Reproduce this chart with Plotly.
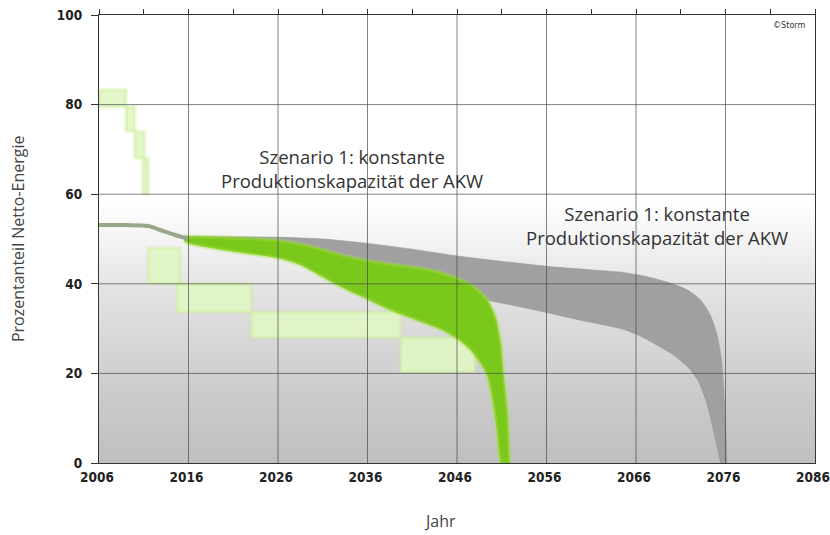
import plotly.graph_objects as go

# ---------------- data ----------------
x_ticks = [2006, 2016, 2026, 2036, 2046, 2056, 2066, 2076, 2086]
y_ticks = [0, 20, 40, 60, 80, 100]

# historical common line
hist_year = [2006, 2009, 2011.5, 2013, 2014.5, 2016]
hist_share = [53.1, 53.1, 52.9, 51.9, 50.9, 50.1]

# grey band (upper / lower edge)
grey_up_year = [2015.5, 2020, 2026, 2031, 2036, 2041, 2046, 2051, 2056, 2061, 2064.3, 2066.2,
                2068, 2069.9, 2071.75, 2073.2, 2074.3, 2075.1, 2075.5, 2075.8, 2076, 2076.15]
grey_up_share = [50.6, 50.5, 50.4, 50.0, 49.0, 47.7, 46.2, 45.0, 43.9, 43.1, 42.6, 42.0,
                 41.2, 40.1, 38.6, 36.4, 33.0, 28.2, 23.7, 16.3, 8.9, 0]
grey_lo_year = [2015.5, 2020, 2026, 2031, 2036, 2041, 2046, 2051, 2056, 2060, 2064.3, 2066.2,
                2068, 2069.9, 2071.75, 2072.9, 2073.8, 2074.3, 2074.9, 2075.3, 2075.5]
grey_lo_share = [49.6, 48.0, 46.5, 44.0, 41.5, 39.5, 37.6, 35.7, 33.6, 31.8, 30.0, 28.6,
                 26.7, 24.5, 21.5, 18.5, 14.0, 10.3, 5.1, 1.4, 0]

# green band (upper / lower edge)
green_up_year = [2015.5, 2020, 2026, 2030, 2033, 2036, 2039, 2041.9, 2044, 2046.1, 2047.9,
                 2049.4, 2050.3, 2050.9, 2051.2, 2051.7, 2051.9, 2052]
green_up_share = [50.6, 50.4, 49.7, 48.2, 46.5, 45.2, 44.3, 43.5, 42.6, 41.2, 39.4,
                  36.4, 32.7, 26.7, 20.0, 10.3, 0.7, 0]
green_lo_year = [2015.5, 2016, 2020, 2026, 2028.5, 2030.7, 2033, 2035.5, 2038, 2040, 2042,
                 2044.2, 2046.1, 2047.5, 2048.6, 2049.4, 2049.9, 2050.4, 2050.8, 2050.9]
green_lo_share = [49.6, 49.0, 47.5, 45.7, 44.2, 41.8, 39.3, 37.0, 34.6, 33.0, 31.5,
                  29.8, 27.6, 25.2, 22.3, 19.3, 14.8, 8.1, 0.7, 0]

# pale green step blocks
block_start = [2006, 2009, 2010, 2010.9, 2011.5, 2014.7, 2023, 2039.7]
block_end = [2009, 2010, 2011.1, 2011.5, 2015, 2023, 2039.7, 2048]
block_low = [79.5, 74, 68, 60, 40, 33.7, 28, 20.3]
block_high = [83.3, 79.5, 74, 68, 48, 40, 33.7, 28]

label_text = "Szenario 1: konstante<br>Produktionskapazität der AKW"
label1_pos = (2034.3, 65.8)
label2_pos = (2068.3, 53.1)

# ---------------- figure ----------------
fig = go.Figure()

# background gradient
fig.add_trace(go.Scatter(
    x=[2006, 2086, 2086, 2006, 2006], y=[0, 0, 58, 58, 0],
    fill="toself", mode="none", hoverinfo="skip", showlegend=False,
    fillgradient=dict(type="vertical",
                      colorscale=[[0, "#bfbfbf"], [0.3, "#cdcdcd"], [0.65, "#e2e2e2"], [1, "#ffffff"]]),
))

# pale green blocks (built as closed rectangles from the block arrays)
bx, by = [], []
for s, e, lo, hi in zip(block_start, block_end, block_low, block_high):
    bx += [s, e, e, s, s, None]
    by += [lo, lo, hi, hi, lo, None]
fig.add_trace(go.Scatter(x=bx, y=by, mode="lines", fill="toself",
                         fillcolor="rgba(224,246,196,0.9)",
                         line=dict(color="rgba(200,238,150,0.35)", width=4),
                         hoverinfo="skip", showlegend=False))

# grey band
fig.add_trace(go.Scatter(x=grey_lo_year, y=grey_lo_share, mode="lines",
                         line=dict(color="rgba(150,150,150,0.6)", width=1, shape="spline", smoothing=0.7),
                         hoverinfo="skip", showlegend=False))
fig.add_trace(go.Scatter(x=grey_up_year, y=grey_up_share, mode="lines", fill="tonexty",
                         fillcolor="#a0a0a0",
                         line=dict(color="rgba(150,150,150,0.6)", width=1, shape="spline", smoothing=0.7),
                         hoverinfo="skip", showlegend=False))

# green band
fig.add_trace(go.Scatter(x=green_lo_year, y=green_lo_share, mode="lines",
                         line=dict(color="rgba(165,225,60,0.35)", width=4, shape="spline", smoothing=0.7),
                         hoverinfo="skip", showlegend=False))
fig.add_trace(go.Scatter(x=green_up_year, y=green_up_share, mode="lines", fill="tonexty",
                         fillcolor="#7ac81b",
                         line=dict(color="rgba(165,225,60,0.35)", width=4, shape="spline", smoothing=0.7),
                         hoverinfo="skip", showlegend=False))

# historical line
fig.add_trace(go.Scatter(x=hist_year, y=hist_share, mode="lines",
                         line=dict(color="#98a78a", width=4, shape="spline", smoothing=0.8),
                         hoverinfo="skip", showlegend=False))

# invisible trace for top tick axis
fig.add_trace(go.Scatter(x=[2006, 2086], y=[50, 50], xaxis="x2", mode="markers",
                         marker=dict(size=1, opacity=0), hoverinfo="skip", showlegend=False))

# grid lines above traces
shapes = []
for xv in x_ticks[1:-1]:
    shapes.append(dict(type="line", xref="x", yref="y", x0=xv, x1=xv, y0=0, y1=100,
                       line=dict(color="rgba(70,70,70,0.85)", width=0.8), layer="above"))
for yv in y_ticks[1:-1]:
    shapes.append(dict(type="line", xref="x", yref="y", x0=2006, x1=2086, y0=yv, y1=yv,
                       line=dict(color="rgba(70,70,70,0.85)", width=0.8), layer="above"))

tick_font = dict(family="DejaVu Sans Condensed, DejaVu Sans, sans-serif", size=13.5,
                 color="#222", weight="bold")

fig.update_layout(
    width=830, height=535,
    margin=dict(l=99, r=15, t=15, b=72, autoexpand=False),
    paper_bgcolor="white", plot_bgcolor="white",
    shapes=shapes,
    xaxis=dict(range=[2006, 2086], tickvals=x_ticks, ticktext=[str(v) for v in x_ticks],
               showgrid=False, zeroline=False, showline=True, linecolor="#333", linewidth=1.3,
               mirror=True, ticks="", tickfont=tick_font, ticklabelstandoff=2, ticklabelshift=-2,
               automargin=False, ticklabeloverflow="allow"),
    xaxis2=dict(range=[2006, 2086], overlaying="x", side="top", anchor="y",
                tickvals=list(range(2006, 2087, 5)),
                ticks="outside", ticklen=5, tickcolor="#333", tickwidth=1.2, automargin=False,
                showticklabels=False, showgrid=False, zeroline=False, showline=False),
    yaxis=dict(range=[0, 100], tickvals=y_ticks, showgrid=False, zeroline=False,
               showline=True, linecolor="#333", linewidth=1.2, mirror=True, automargin=False,
               ticks="outside", ticklen=7, tickcolor="#333", tickfont=tick_font, ticklabelstandoff=6,
               ticklabeloverflow="allow"),
    annotations=[
        dict(x=label1_pos[0], y=label1_pos[1], xref="x", yref="y", text=label_text, showarrow=False,
             font=dict(family="Open Sans", size=18.5, color="#333"), align="center"),
        dict(x=label2_pos[0], y=label2_pos[1], xref="x", yref="y", text=label_text, showarrow=False,
             font=dict(family="Open Sans", size=18.5, color="#333"), align="center"),
        dict(x=-0.113, y=0.5, xref="paper", yref="paper", text="Prozentanteil Netto-Energie",
             textangle=-90, showarrow=False, xanchor="center", yanchor="middle",
             font=dict(family="Open Sans", size=16, color="#444")),
        dict(x=0.476, y=-0.129, xref="paper", yref="paper", text="Jahr", showarrow=False,
             xanchor="center", yanchor="middle",
             font=dict(family="Open Sans", size=16, color="#444")),
        dict(x=0.99, y=0.978, xref="paper", yref="paper", text="©Storm", showarrow=False,
             xanchor="right", yanchor="middle",
             font=dict(family="DejaVu Sans Condensed, DejaVu Sans", size=9, color="#333")),
    ],
)

# remove the default page margin so the 830x535 figure fills the window exactly
fig.write_html("out.html", config={"displayModeBar": False},
               post_script="document.body.style.margin='0';document.body.style.overflow='hidden';")
